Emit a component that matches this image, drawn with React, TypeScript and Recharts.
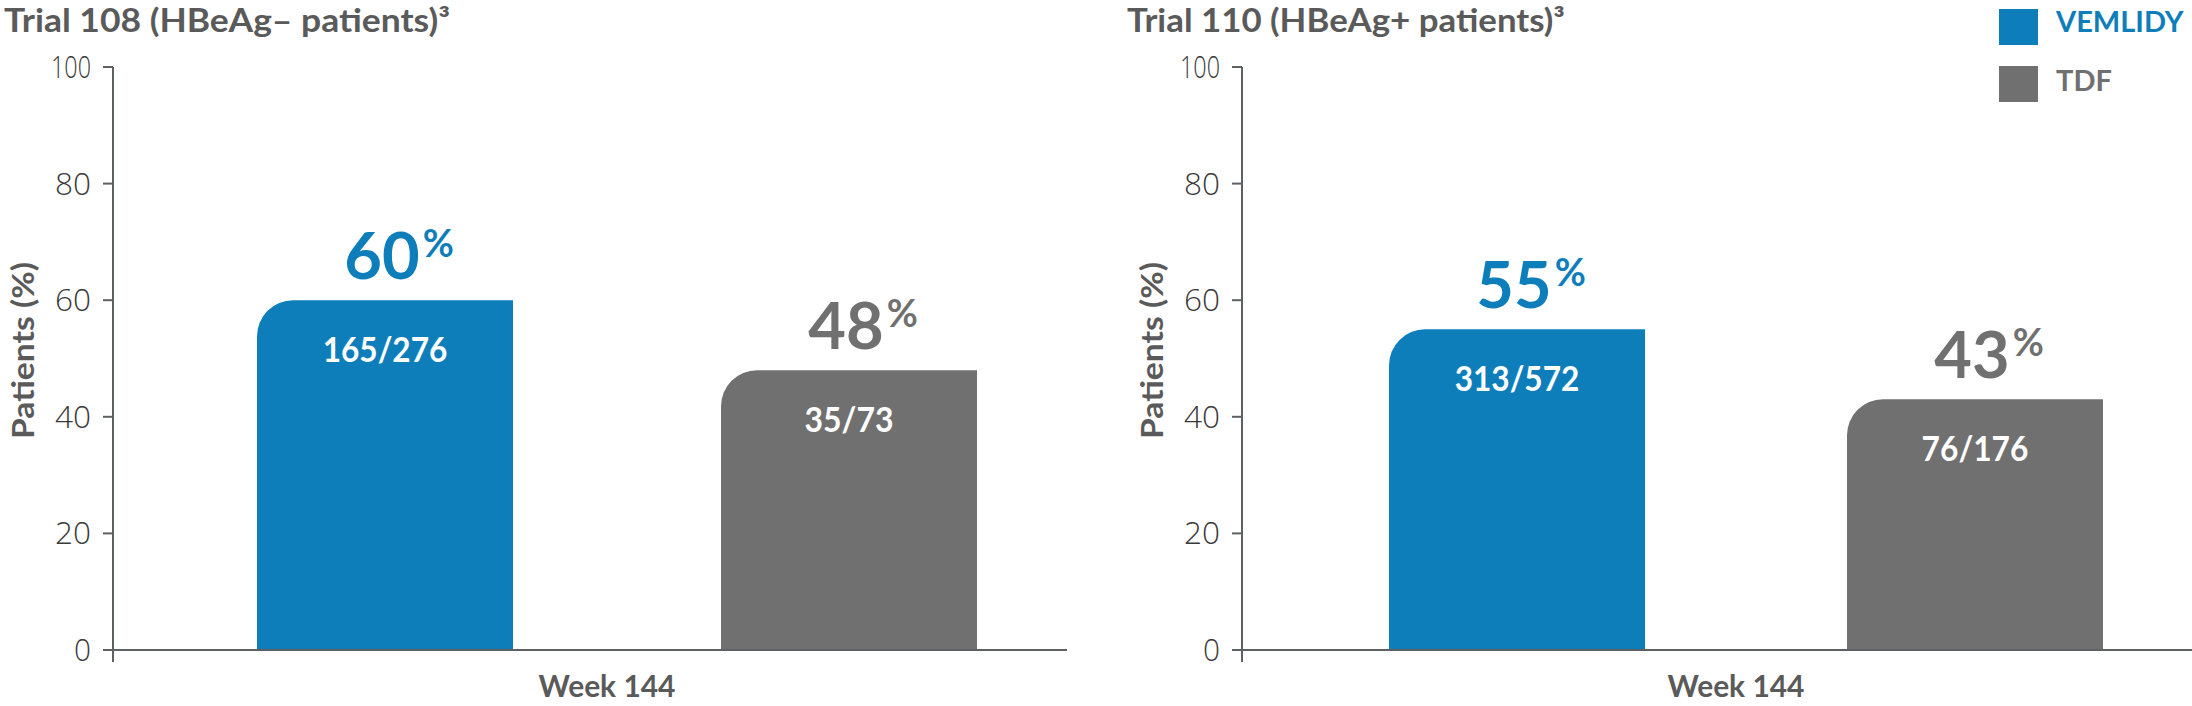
import { Bar, BarChart, LabelList, Legend, XAxis, YAxis } from 'recharts'

const CATEGORIES = ['Week 144']
const SERIES = ['VEMLIDY', 'TDF']
const Y_TICKS = [0, 20, 40, 60, 80, 100]

const TRIAL_108_VEMLIDY = [60]
const TRIAL_108_TDF = [48]
const TRIAL_108_VEMLIDY_N = ['165/276']
const TRIAL_108_TDF_N = ['35/73']

const TRIAL_110_VEMLIDY = [55]
const TRIAL_110_TDF = [43]
const TRIAL_110_VEMLIDY_N = ['313/572']
const TRIAL_110_TDF_N = ['76/176']

const BLUE = '#0e7ebb'
const GRAY = '#707070'
const AXIS = '#5d6165'
const TEXT = '#5a5a5a'
const BOLD_FONT = 'Lato, "Open Sans", sans-serif'
const LIGHT_FONT = '"Open Sans", Lato, sans-serif'

const trial108 = CATEGORIES.map((week, i) => ({
  week,
  vemlidy: TRIAL_108_VEMLIDY[i],
  tdf: TRIAL_108_TDF[i],
  vemlidyN: TRIAL_108_VEMLIDY_N[i],
  tdfN: TRIAL_108_TDF_N[i],
}))

const trial110 = CATEGORIES.map((week, i) => ({
  week,
  vemlidy: TRIAL_110_VEMLIDY[i],
  tdf: TRIAL_110_TDF[i],
  vemlidyN: TRIAL_110_VEMLIDY_N[i],
  tdfN: TRIAL_110_TDF_N[i],
}))

function PctLabel(props: any) {
  const { x, y, width, value, color } = props
  const cx = Number(x) + Number(width) / 2
  return (
    <text
      x={cx + 14}
      y={Number(y) - 21}
      textAnchor="middle"
      fill={color}
      fontFamily={BOLD_FONT}
      fontWeight={700}
      fontSize={65}
    >
      <tspan>{value}</tspan>
      <tspan fontSize={38} dx={3} dy={-22}>%</tspan>
    </text>
  )
}

function CountLabel(props: any) {
  const { x, y, width, value } = props
  const s = String(value)
  return (
    <text
      x={Number(x) + Number(width) / 2}
      y={Number(y) + 62}
      textAnchor="middle"
      fill="#fff"
      fontFamily={BOLD_FONT}
      fontWeight={700}
      fontSize={35}
      textLength={s.length * 17.8}
      lengthAdjust="spacingAndGlyphs"
    >
      {s}
    </text>
  )
}

// narrow light numerals like the original
const TICK_WIDTH: Record<number, number> = { 1: 17, 2: 36, 3: 40 }

function YTick(props: any) {
  const { x, y, payload } = props
  const s = String(payload.value)
  return (
    <g>
      <text
        x={x}
        y={y + 11}
        textAnchor="end"
        fill="#3a3a3a"
        fontFamily={LIGHT_FONT}
        fontWeight={300}
        fontSize={31}
        textLength={TICK_WIDTH[s.length]}
        lengthAdjust="spacingAndGlyphs"
      >
        {s}
      </text>
      {payload.value === 0 && (
        <line x1={x + 22} x2={x + 22} y1={y} y2={y + 12} stroke={AXIS} strokeWidth={2} />
      )}
    </g>
  )
}

function WeekTick(props: any) {
  const { x, y, payload } = props
  return (
    <text
      x={x - 10}
      y={y + 47}
      textAnchor="middle"
      fill={TEXT}
      fontFamily={BOLD_FONT}
      fontWeight={700}
      fontSize={30}
      textLength={137}
      lengthAdjust="spacingAndGlyphs"
    >
      {payload.value}
    </text>
  )
}

function YLabel(props: any) {
  const vb = props.viewBox
  const cx = vb.x + vb.width - 91
  const cy = vb.y + vb.height / 2 - 8
  return (
    <text
      x={cx}
      y={cy}
      transform={`rotate(-90 ${cx} ${cy})`}
      textAnchor="middle"
      dominantBaseline="central"
      fill={TEXT}
      fontFamily={BOLD_FONT}
      fontWeight={700}
      fontSize={30}
      textLength={177}
      lengthAdjust="spacingAndGlyphs"
    >
      Patients (%)
    </text>
  )
}

function LegendBox(props: any) {
  const payload = [...(props.payload || [])].sort(
    (a: any, b: any) => SERIES.indexOf(a.value) - SERIES.indexOf(b.value),
  )
  return (
    <div style={{ position: 'relative', width: 180, height: 110 }}>
      {payload.map((p: any, i: number) => (
        <div key={p.value}>
          <div
            style={{
              position: 'absolute',
              left: 0,
              top: 9 + i * 57,
              width: 39,
              height: 36,
              background: p.color,
            }}
          />
          <div
            style={{
              position: 'absolute',
              left: 57,
              top: i * 59,
              lineHeight: '42px',
              fontFamily: BOLD_FONT,
              fontWeight: 700,
              fontSize: 29,
              color: p.color,
              whiteSpace: 'nowrap',
            }}
          >
            {p.value}
          </div>
        </div>
      ))}
    </div>
  )
}

interface PanelProps {
  data: typeof trial108
  width: number
  yAxisWidth: number
  marginRight: number
  padLeft: number
  barGap: number
  legend?: boolean
}

function Panel({ data, width, yAxisWidth, marginRight, padLeft, barGap, legend }: PanelProps) {
  return (
    <BarChart
      width={width}
      height={706}
      data={data}
      barGap={barGap}
      margin={{ top: 67, right: marginRight, bottom: 0, left: 0 }}
    >
      <XAxis
        dataKey="week"
        height={56}
        padding={{ left: padLeft, right: 0 }}
        axisLine={{ stroke: AXIS, strokeWidth: 2 }}
        tickLine={false}
        tickSize={0}
        tickMargin={0}
        tick={<WeekTick />}
      />
      <YAxis
        width={yAxisWidth}
        domain={[0, 100]}
        ticks={Y_TICKS}
        axisLine={{ stroke: AXIS, strokeWidth: 2 }}
        tickLine={{ stroke: AXIS, strokeWidth: 2 }}
        tickSize={10}
        tickMargin={12}
        tick={<YTick />}
        label={<YLabel />}
      />
      {legend && (
        <Legend
          layout="vertical"
          align="center"
          verticalAlign="middle"
          content={<LegendBox />}
          wrapperStyle={{ position: 'absolute', left: width - 193, top: 0, width: 180, height: 110 }}
        />
      )}
      <Bar dataKey="vemlidy" name={SERIES[0]} fill={BLUE} barSize={256} radius={[36, 0, 0, 0]} isAnimationActive={false}>
        <LabelList dataKey="vemlidy" content={(p: any) => <PctLabel {...p} color={BLUE} />} />
        <LabelList dataKey="vemlidyN" content={(p: any) => <CountLabel {...p} />} />
      </Bar>
      <Bar dataKey="tdf" name={SERIES[1]} fill={GRAY} barSize={256} radius={[36, 0, 0, 0]} isAnimationActive={false}>
        <LabelList dataKey="tdf" content={(p: any) => <PctLabel {...p} color={GRAY} />} />
        <LabelList dataKey="tdfN" content={(p: any) => <CountLabel {...p} />} />
      </Bar>
    </BarChart>
  )
}

export default function App() {
  return (
    <div style={{ position: 'relative', width: 2192, height: 706, background: '#fff', overflow: 'hidden' }}>
      <style>{'body{margin:0}'}</style>
      <svg
        width={2192}
        height={60}
        style={{ position: 'absolute', left: 0, top: 0, pointerEvents: 'none' }}
      >
        <text
          x={4}
          y={32}
          fill={TEXT}
          fontFamily={BOLD_FONT}
          fontWeight={700}
          fontSize={32}
          textLength={446}
          lengthAdjust="spacingAndGlyphs"
        >
          Trial 108 (HBeAg– patients)³
        </text>
        <text
          x={1127}
          y={32}
          fill={TEXT}
          fontFamily={BOLD_FONT}
          fontWeight={700}
          fontSize={32}
          textLength={438}
          lengthAdjust="spacingAndGlyphs"
        >
          Trial 110 (HBeAg+ patients)³
        </text>
      </svg>
      <div style={{ position: 'absolute', left: 0, top: 0 }}>
        <Panel data={trial108} width={1090} yAxisWidth={113} marginRight={23} padLeft={54} barGap={208} />
      </div>
      <div style={{ position: 'absolute', left: 1100, top: 0 }}>
        <Panel data={trial110} width={1092} yAxisWidth={142} marginRight={0} padLeft={58} barGap={202} legend />
      </div>
    </div>
  )
}
